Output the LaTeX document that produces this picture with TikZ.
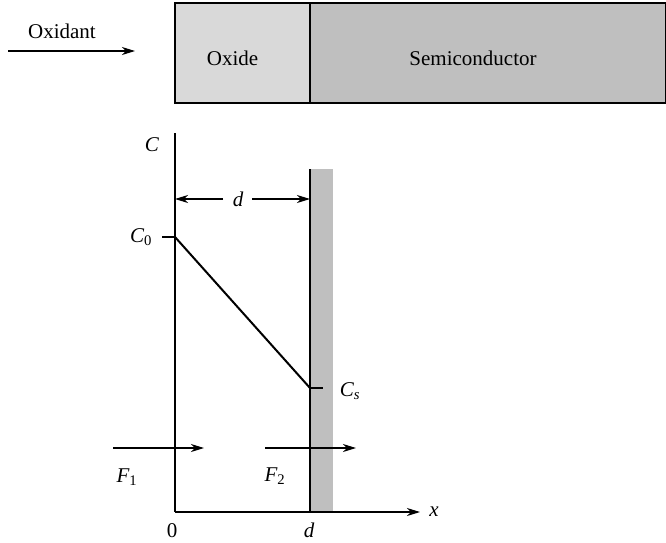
\documentclass[tikz,border=0pt]{standalone}
\usepackage{fontspec}
\setmainfont{Liberation Serif}
\usetikzlibrary{arrows.meta}
\definecolor{oxgray}{gray}{0.85}
\definecolor{scgray}{gray}{0.75}
\definecolor{bandgray}{gray}{0.75}
\begin{document}
\begin{tikzpicture}[x=1pt,y=-1pt,
  every node/.style={font=\fontsize{21}{24}\selectfont, inner sep=0pt},
  lbl/.style={font=\fontsize{21}{24}\selectfont\itshape},
  arr/.style={line width=1.2pt, -{Stealth[length=13pt,width=8pt,inset=4pt]}},
  axis/.style={line width=1.2pt},
  tick/.style={line width=1.2pt}]
\useasboundingbox (0,0) rectangle (666,542);
% top bar
\fill[oxgray] (175,3) rectangle (310,103);
\fill[scgray] (310,3) rectangle (665.5,103);
\draw[line width=1.2pt] (175,3) rectangle (665.5,103);
\draw[line width=1.2pt] (310,3) -- (310,103);
\node (oxide) at (232.5,58) {Oxide};
\node (semi) at (473,58) {Semiconductor};
\node (oxidant) at (62,31) {Oxidant};
\coordinate (oxA) at (8,51);
\coordinate (oxB) at (135,51);
\draw[arr] (oxA) -- (oxB);
% band
\fill[bandgray] (310,169) rectangle (333,512);
\coordinate (orig) at (175,512);
\coordinate (ytop) at (175,133);
\coordinate (xend) at (420,512);
\draw[axis] (ytop) -- (orig);
\draw[arr] (orig) -- (xend);
\coordinate (dtop) at (310,169);
\coordinate (dbot) at (310,512);
\draw[axis] (dtop) -- (dbot);
\node[lbl] (x) at (434,512) {x};
\node[lbl] (C) at (152,145) {C};
% d dimension
\node[lbl] (dd) at (238,199) {d};
\coordinate (dl) at (175,199);
\coordinate (dr) at (310,199);
\draw[arr] (223,199) -- (dl);
\draw[arr] (252,199) -- (dr);
% concentration
\coordinate (c0) at (175,237);
\coordinate (cs) at (310,388);
\draw[tick] (162,237) -- (c0);
\draw[line width=2pt] (c0) -- (cs);
\draw[tick] (cs) -- (323,388);
\node[lbl] (C0) at (141,237) {C\textsubscript{\upshape 0}};
\node[lbl] (Cs) at (350,391) {C\textsubscript{s}};
% fluxes
\coordinate (f1a) at (113,448);
\coordinate (f1b) at (204,448);
\coordinate (f2a) at (265,448);
\coordinate (f2b) at (356,448);
\draw[arr] (f1a) -- (f1b);
\draw[arr] (f2a) -- (f2b);
\node[lbl] (F1) at (127,477) {F\textsubscript{\upshape 1}};
\node[lbl] (F2) at (275,476) {F\textsubscript{\upshape 2}};
% axis labels
\node (zero) at (172,531) {0};
\node[lbl] (dlab) at (309,530) {d};
\end{tikzpicture}
\end{document}
